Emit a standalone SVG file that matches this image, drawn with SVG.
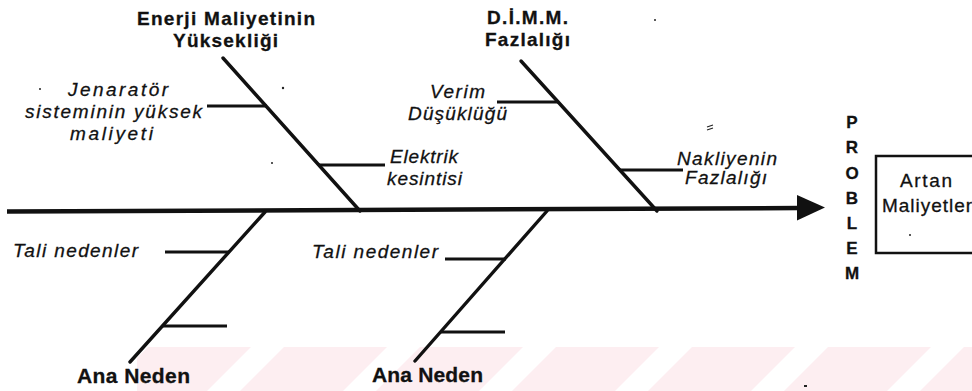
<svg xmlns="http://www.w3.org/2000/svg" width="972" height="391" viewBox="0 0 972 391">
  <defs>
    <style>
      text { font-family: "Liberation Sans", Arial, sans-serif; fill: #111; stroke: #111; stroke-width: 0.3; }
      .cat { font-size: 19px; font-weight: bold; }
      .main { font-size: 21px; font-weight: bold; }
      .sub { font-size: 19px; font-style: italic; }
      .head { font-size: 19px; }
      .vert { font-size: 17px; font-weight: bold; text-anchor: middle; }
      .spine { stroke: #111; stroke-width: 4.5; fill: none; stroke-linecap: butt; }
      .bone { stroke: #111; stroke-width: 3.4; fill: none; stroke-linecap: round; }
      .twig { stroke: #111; stroke-width: 3; fill: none; stroke-linecap: butt; }
      .stripe { fill: #fdeef1; }
      .speck { fill: #222; }
    </style>
    <clipPath id="bandClip">
      <rect x="137" y="347" width="835" height="44"/>
    </clipPath>
  </defs>

  <rect width="972" height="391" fill="#ffffff"/>

  <!-- diagonal pink band along the bottom -->
  <g id="band" clip-path="url(#bandClip)">
    <polygon class="stripe" points="148,347 251,347 207,391 104,391"/>
    <polygon class="stripe" points="284,347 387,347 343,391 240,391"/>
    <polygon class="stripe" points="420,347 523,347 479,391 376,391"/>
    <polygon class="stripe" points="556,347 659,347 615,391 512,391"/>
    <polygon class="stripe" points="692,347 795,347 751,391 648,391"/>
    <polygon class="stripe" points="828,347 931,347 887,391 784,391"/>
    <polygon class="stripe" points="964,347 1067,347 1023,391 920,391"/>
  </g>

  <!-- spine, main bones and sub-cause twigs -->
  <g id="connectors">
    <line class="spine" x1="7" y1="211.5" x2="800" y2="208"/>
    <polygon points="797,195 825,207.5 797,220.5" fill="#111"/>

    <line class="bone" x1="223" y1="58" x2="360" y2="211"/>
    <line class="twig" x1="207" y1="106" x2="267" y2="106"/>
    <line class="twig" x1="319" y1="165" x2="385" y2="165"/>

    <line class="bone" x1="521" y1="61" x2="657" y2="211"/>
    <line class="twig" x1="497" y1="102" x2="558" y2="102"/>
    <line class="twig" x1="620" y1="170" x2="683" y2="170"/>

    <line class="bone" x1="265" y1="212" x2="130" y2="362"/>
    <line class="twig" x1="165" y1="252" x2="229" y2="252"/>
    <line class="twig" x1="162" y1="326" x2="227" y2="326"/>

    <line class="bone" x1="547" y1="211" x2="415" y2="361"/>
    <line class="twig" x1="445" y1="259" x2="506" y2="259"/>
    <line class="twig" x1="441" y1="332" x2="505" y2="332"/>
  </g>

  <!-- upper category: energy cost -->
  <g id="cat-enerji">
    <text class="cat" x="137" y="25" textLength="178" lengthAdjust="spacing">Enerji Maliyetinin</text>
    <text class="cat" x="173" y="47" textLength="105" lengthAdjust="spacing">Yüksekliği</text>
  </g>
  <g id="sub-jenerator">
    <text class="sub" x="68" y="96" textLength="100" lengthAdjust="spacing">Jenaratör</text>
    <text class="sub" x="25" y="118" textLength="177" lengthAdjust="spacing">sisteminin yüksek</text>
    <text class="sub" x="70" y="140" textLength="83" lengthAdjust="spacing">maliyeti</text>
  </g>
  <g id="sub-elektrik">
    <text class="sub" x="390" y="163" textLength="68" lengthAdjust="spacing">Elektrik</text>
    <text class="sub" x="387" y="185" textLength="75" lengthAdjust="spacing">kesintisi</text>
  </g>

  <!-- upper category: D.I.M.M. -->
  <g id="cat-dimm">
    <text class="cat" x="487" y="24" textLength="81" lengthAdjust="spacing">D.İ.M.M.</text>
    <text class="cat" x="485" y="46" textLength="85" lengthAdjust="spacing">Fazlalığı</text>
  </g>
  <g id="sub-verim">
    <text class="sub" x="430" y="98" textLength="55" lengthAdjust="spacing">Verim</text>
    <text class="sub" x="408" y="120" textLength="99" lengthAdjust="spacing">Düşüklüğü</text>
  </g>
  <g id="sub-nakliye">
    <text class="sub" x="677" y="165" textLength="100" lengthAdjust="spacing">Nakliyenin</text>
    <text class="sub" x="685" y="184" textLength="82" lengthAdjust="spacing">Fazlalığı</text>
  </g>

  <!-- lower categories -->
  <g id="sub-tali-1">
    <text class="sub" x="13" y="257" textLength="125" lengthAdjust="spacing">Tali nedenler</text>
  </g>
  <g id="cat-ana-1">
    <text class="main" x="77" y="383" textLength="113" lengthAdjust="spacing">Ana Neden</text>
  </g>
  <g id="sub-tali-2">
    <text class="sub" x="312" y="258" textLength="126" lengthAdjust="spacing">Tali nedenler</text>
  </g>
  <g id="cat-ana-2">
    <text class="main" x="372" y="382" textLength="111" lengthAdjust="spacing">Ana Neden</text>
  </g>

  <!-- problem head -->
  <g id="problem-label">
    <text class="vert" x="852" y="128">P</text>
    <text class="vert" x="852" y="153">R</text>
    <text class="vert" x="852" y="179">O</text>
    <text class="vert" x="852" y="204">B</text>
    <text class="vert" x="852" y="229">L</text>
    <text class="vert" x="852" y="254">E</text>
    <text class="vert" x="852" y="279">M</text>
  </g>
  <g id="problem-box">
    <rect x="876" y="156" width="110" height="97" fill="none" stroke="#111" stroke-width="2.5"/>
    <text class="head" x="900" y="187" textLength="52" lengthAdjust="spacing">Artan</text>
    <text class="head" x="882" y="212" textLength="90" lengthAdjust="spacing">Maliyetler</text>
  </g>

  <!-- small print specks -->
  <g id="specks">
    <circle class="speck" cx="40" cy="89" r="1"/>
    <circle class="speck" cx="283" cy="88" r="1.2"/>
    <circle class="speck" cx="272" cy="163" r="1"/>
    <circle class="speck" cx="655" cy="20" r="1"/>
    <circle class="speck" cx="910" cy="235" r="1"/>
    <path d="M707,127 l6,-2 M707,130 l6,-2" stroke="#222" stroke-width="1.2"/>
    <rect class="speck" x="804" y="385" width="3" height="2"/>
  </g>
</svg>
